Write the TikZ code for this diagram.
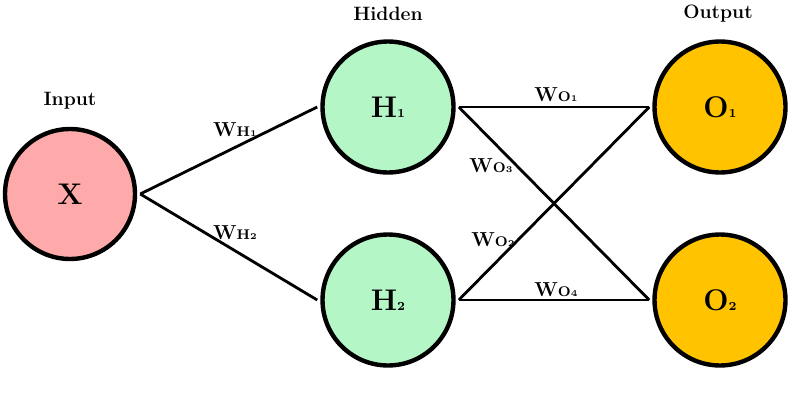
\documentclass[tikz,border=0pt]{standalone}
\usepackage{amsmath,amssymb}
\usetikzlibrary{arrows}

\definecolor{inpink}{RGB}{255,170,170}
\definecolor{hidgreen}{RGB}{180,246,198}
\definecolor{outamber}{RGB}{255,195,0}

\begin{document}
\begin{tikzpicture}[x=0.02cm,y=-0.02cm,
	neuron/.style={circle,draw=black,line width=2.5pt,minimum size=2.62cm,inner sep=0pt,outer sep=3pt,font=\bf\fontsize{17}{18}\selectfont},
	layer/.style={font=\bf\fontsize{11}{12}\selectfont},
	weight/.style={font=\bf\fontsize{11.5}{12}\selectfont,inner sep=1pt},
	edge/.style={line width=1.6pt}]
		\useasboundingbox (0,0) rectangle (800,402);
		%Depth 0
		\node[layer] (lin) at (70,101) {Input};
		\node[neuron,fill=inpink,minimum size=2.6cm] (X) at (70,194) {X};
		%Depth 1
		\node[layer] (lhid) at (388,14) {Hidden};
		\node[neuron,fill=hidgreen] (H1) at (388,107) {H{\scriptsize 1}};
		\node[neuron,fill=hidgreen] (H2) at (388,300) {H{\scriptsize 2}};
		\draw[edge] (X.east)--(H1.west);
		\draw[edge] (X.east)--(H2.west);
		\node[weight] (wh1) at (235,130) {W{\footnotesize H{\tiny 1}}};
		\node[weight] (wh2) at (235,233) {W{\footnotesize H{\tiny 2}}};
		%Depth 2
		\node[layer] (lout) at (718,14) {Output};
		\node[neuron,fill=outamber] (O1) at (720,107) {O{\scriptsize 1}};
		\node[neuron,fill=outamber] (O2) at (720,300) {O{\scriptsize 2}};
		\draw[edge] (H1.east)--(O1.west);
		\draw[edge] (H1.east)--(O2.west);
		\draw[edge] (H2.east)--(O1.west);
		\draw[edge] (H2.east)--(O2.west);
		\node[weight] (wo1) at (556,95) {W{\footnotesize O{\tiny 1}}};
		\node[weight] (wo3) at (491,166) {W{\footnotesize O{\tiny 3}}};
		\node[weight] (wo2) at (493,240) {W{\footnotesize O{\tiny 2}}};
		\node[weight] (wo4) at (556,290) {W{\footnotesize O{\tiny 4}}};
		
		\end{tikzpicture}
\end{document}
